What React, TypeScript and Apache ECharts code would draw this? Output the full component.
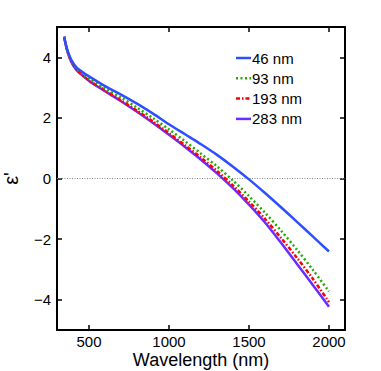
import React, { useEffect, useRef } from "react";
import * as echarts from "echarts";

const wavelengths = [345, 355, 370, 390, 420, 450, 500, 600, 700, 800, 900, 1000, 1100, 1200, 1300, 1400, 1500, 1600, 1700, 1800, 1900, 2000];
const s46 = [4.68, 4.43, 4.16, 3.91, 3.68, 3.55, 3.37, 3.05, 2.77, 2.47, 2.14, 1.79, 1.46, 1.13, 0.78, 0.39, -0.03, -0.48, -0.95, -1.43, -1.92, -2.41];
const s93 = [4.68, 4.42, 4.14, 3.88, 3.64, 3.5, 3.3, 2.97, 2.67, 2.34, 1.99, 1.62, 1.23, 0.82, 0.4, -0.07, -0.58, -1.13, -1.72, -2.35, -3.02, -3.73];
const s193 = [4.68, 4.41, 4.12, 3.86, 3.61, 3.46, 3.24, 2.91, 2.58, 2.24, 1.88, 1.5, 1.1, 0.69, 0.25, -0.23, -0.76, -1.33, -1.96, -2.62, -3.32, -4.08];
const s283 = [4.68, 4.4, 4.11, 3.84, 3.59, 3.44, 3.22, 2.88, 2.55, 2.2, 1.83, 1.44, 1.04, 0.62, 0.17, -0.32, -0.86, -1.45, -2.12, -2.82, -3.52, -4.23];

const seriesNames = ["46 nm", "93 nm", "193 nm", "283 nm"];
const xTicks = [500, 1000, 1500, 2000];
const yTicks = [-4, -2, 0, 2, 4];

const FONT = "'Liberation Sans', Arial, sans-serif";

export default function App() {
  const ref = useRef<HTMLDivElement>(null);
  useEffect(() => {
    if (!ref.current) return;
    const chart = echarts.init(ref.current, null, { renderer: "svg" });
    const pair = (ys: number[]) => wavelengths.map((x, i) => [x, ys[i]]);
    const colors = ["#2e4fff", "#22aa00", "#ff0000", "#6a2cff"];
    const types: any[] = ["solid", [2, 2.5], [4, 2, 1.5, 2], "solid"];
    const datas = [s46, s93, s193, s283];
    const fmt = (v: number) => String(v).replace("-", "\u2212");
    const axisCommon = {
      axisLine: { show: true, onZero: false, lineStyle: { color: "#000", width: 2 } },
      splitLine: { show: false },
    };
    const legendGraphics: any[] = [];
    seriesNames.forEach((name, i) => {
      const y = 58 + i * 20.3;
      legendGraphics.push({
        type: "line",
        shape: { x1: 236, y1: y, x2: 251, y2: y },
        style: { stroke: colors[i], lineWidth: 2.5, lineDash: types[i] === "solid" ? null : types[i] },
      });
      legendGraphics.push({
        type: "text",
        x: 252,
        y: y,
        style: { text: name, fill: "#000", font: `15px ${FONT}`, textVerticalAlign: "middle", verticalAlign: "middle" },
      });
    });
    chart.setOption({
      animation: false,
      grid: { left: 57, right: 36, top: 27, bottom: 41, containLabel: false, outerBoundsMode: "none" },
      graphic: legendGraphics,
      xAxis: [
        {
          type: "value",
          min: 300,
          max: 2100,
          ...axisCommon,
          axisTick: { show: true, inside: true, length: 5, customValues: xTicks, lineStyle: { color: "#000", width: 1.5 } },
          axisLabel: { customValues: xTicks, color: "#000", fontSize: 15, lineHeight: 15, fontFamily: FONT, margin: 4, formatter: fmt },
          name: "Wavelength (nm)",
          nameLocation: "middle",
          nameGap: 20.5,
          nameMoveOverlap: false,
          nameTextStyle: { color: "#000", fontSize: 18, lineHeight: 18, fontFamily: FONT },
        },
        {
          type: "value",
          position: "top",
          min: 300,
          max: 2100,
          ...axisCommon,
          axisTick: { show: true, inside: true, length: 5, customValues: xTicks, lineStyle: { color: "#000", width: 1.5 } },
          axisLabel: { show: false },
        },
      ],
      yAxis: [
        {
          type: "value",
          min: -5,
          max: 5,
          ...axisCommon,
          axisTick: { show: true, inside: true, length: 5, customValues: yTicks, lineStyle: { color: "#000", width: 1.5 } },
          axisLabel: { customValues: yTicks, color: "#000", fontSize: 15, fontFamily: FONT, margin: 6, formatter: fmt },
          name: "\u03b5'",
          nameLocation: "middle",
          nameGap: 36,
          nameRotate: 90,
          nameMoveOverlap: false,
          nameTextStyle: { color: "#000", fontSize: 20, fontFamily: FONT },
        },
        {
          type: "value",
          position: "right",
          min: -5,
          max: 5,
          ...axisCommon,
          axisTick: { show: true, inside: true, length: 5, customValues: yTicks, lineStyle: { color: "#000", width: 1.5 } },
          axisLabel: { show: false },
        },
      ],
      series: datas.map((d, i) => ({
        name: seriesNames[i],
        type: "line",
        data: pair(d),
        showSymbol: false,
        symbol: "none",
        smooth: 0.3,
        color: colors[i],
        lineStyle: { color: colors[i], width: 2.5, type: types[i] },
        z: 10 - i,
        ...(i === 0
          ? {
              markLine: {
                silent: true,
                symbol: "none",
                label: { show: false },
                lineStyle: { color: "#888", width: 1, type: [1, 1.5] },
                data: [{ yAxis: 0 }],
              },
            }
          : {}),
      })),
    });
    return () => chart.dispose();
  }, []);
  return <div ref={ref} style={{ position: "fixed", left: 0, top: 0, width: 381, height: 371, background: "#fff" }} />;
}
